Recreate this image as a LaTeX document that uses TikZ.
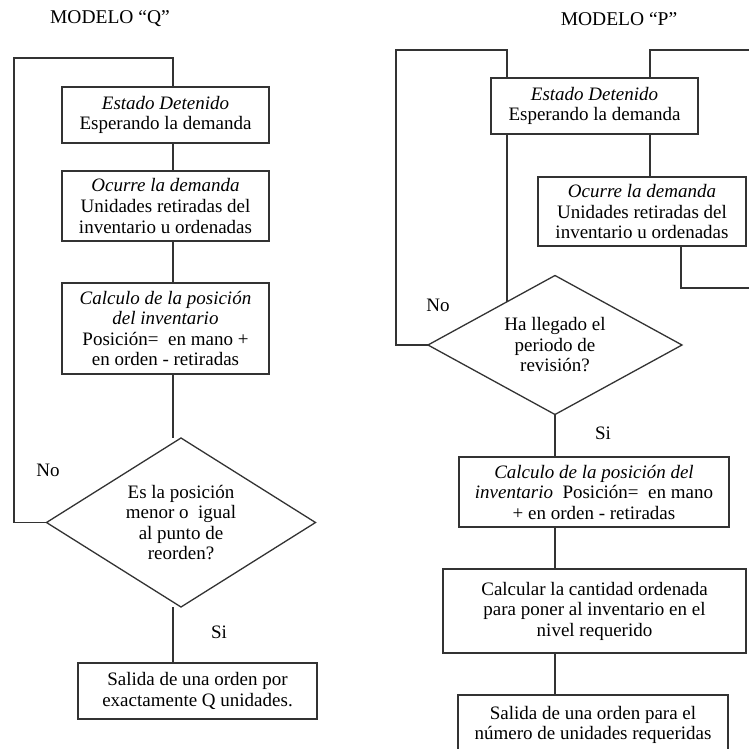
\documentclass[tikz,border=0pt]{standalone}
\usepackage{fontspec}
\setmainfont{Liberation Serif}
\usetikzlibrary{shapes.geometric,calc}
\begin{document}
\begin{tikzpicture}[x=1pt,y=-1pt,
  every node/.style={outer sep=0pt, inner sep=0pt, font=\fontsize{19}{20.5}\selectfont},
  box/.style={draw=black!80, line width=1.3pt, rectangle, align=center},
  decision/.style={draw=black!80, line width=1.3pt, diamond, align=center, aspect=1.6},
  flow/.style={draw=black!80, line width=1.3pt},
  title/.style={font=\fontsize{19.5}{21}\selectfont}
]
\clip (0,0) rectangle (749,749);
\fill[white] (0,0) rectangle (749,749);

% ---------------- Modelo Q ----------------
\node[title] (tq) at (110,19) {MODELO “Q”};

\node[box, minimum width=207pt, minimum height=56pt] (q1) at (165.5,115)
  {\textit{Estado Detenido}\\Esperando la demanda};
\node[box, minimum width=207pt, minimum height=70pt] (q2) at (165.5,206)
  {\textit{Ocurre la demanda}\\Unidades retiradas del\\inventario u ordenadas};
\node[box, minimum width=207pt, minimum height=91pt] (q3) at (165.5,328.5)
  {\textit{Calculo de la posición}\\\textit{del inventario}\\Posición=~ en mano +\\en orden - retiradas};
\node[decision, minimum width=269pt, minimum height=169pt] (qd) at (181,522.5)
  {Es la posición\\menor o~ igual\\al punto de\\reorden?};
\node[box, minimum width=239pt, minimum height=56pt] (q4) at (197.5,691)
  {Salida de una orden por\\exactamente Q unidades.};

\coordinate (qx) at (173,0);
\coordinate (qloop) at (14,58);

\draw[flow] (qd.west) -| (qloop) -| (q1.north -| qx);
\draw[flow] (q1.south -| qx) -- (q2.north -| qx);
\draw[flow] (q2.south -| qx) -- (q3.north -| qx);
\draw[flow] (q3.south -| qx) -- (qd.north -| qx);
\draw[flow] (qd.south -| qx) -- (q4.north -| qx);

\node (qno) at (48,470) {No};
\node (qsi) at (219,632) {Si};

% ---------------- Modelo P ----------------
\node[title] (tp) at (619,19) {MODELO “P”};

\node[box, minimum width=207pt, minimum height=56pt] (p1) at (594.5,106)
  {\textit{Estado Detenido}\\Esperando la demanda};
\node[box, minimum width=208pt, minimum height=69pt] (p2) at (642,211.5)
  {\textit{Ocurre la demanda}\\Unidades retiradas del\\inventario u ordenadas};
\node[decision, minimum width=254pt, minimum height=139pt] (pd) at (555,345)
  {Ha llegado el\\periodo de\\revisión?};
\node[box, minimum width=270pt, minimum height=70pt] (p3) at (594,492)
  {\textit{Calculo de la posición del}\\\textit{inventario}~ Posición=~ en mano\\+ en orden - retiradas};
\node[box, minimum width=303pt, minimum height=84pt] (p4) at (594.5,611)
  {Calcular la cantidad ordenada\\para poner al inventario en el\\nivel requerido};
\node[box, minimum width=270pt, minimum height=60pt] (p5) at (593,725)
  {Salida de una orden para el\\número de unidades requeridas};

\coordinate (px) at (507,0);
\coordinate (pc) at (650,0);
\coordinate (pr) at (681,0);
\coordinate (pm) at (555,0);
\coordinate (ploop) at (396,50);
\coordinate (pedgeA) at (755,50);
\coordinate (pedgeB) at (755,288);
% point where the loop line meets the upper-left edge of the decision
\coordinate (pdedge) at ($(pd.west)!0.622!(pd.north)$);

\draw[flow] (pd.west) -| (ploop) -| (p1.north -| px);
\draw[flow] (p1.south -| px) -- (px |- pdedge);
\draw[flow] (p1.north -| pc) |- (pedgeA);
\draw[flow] (p1.south -| pc) -- (p2.north -| pc);
\draw[flow] (p2.south -| pr) |- (pedgeB);
\draw[flow] (pd.south) -- (pd.south |- p3.north);
\draw[flow] (p3.south -| pm) -- (p4.north -| pm);
\draw[flow] (p4.south -| pm) -- (p5.north -| pm);

\node (pno) at (438,305) {No};
\node (psi) at (603,433) {Si};
\end{tikzpicture}
\end{document}
